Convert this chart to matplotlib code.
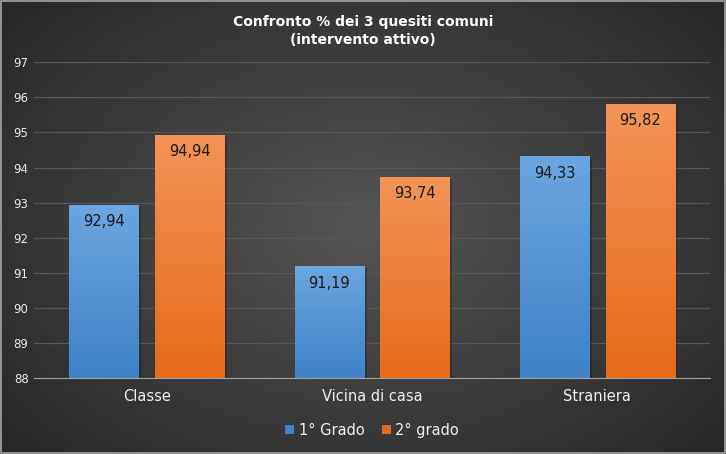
import numpy as np
import matplotlib
matplotlib.use("Agg")
import matplotlib.pyplot as plt
from matplotlib.patches import Rectangle

plt.rcParams['font.family'] = ['Liberation Sans Narrow', 'DejaVu Sans']

# dati
categorie = ["Classe", "Vicina di casa", "Straniera"]
primo_grado = [92.94, 91.19, 94.33]
secondo_grado = [94.94, 93.74, 95.82]
serie_nomi = ["1° Grado", "2° grado"]
y_ticks = list(range(88, 98))

fig = plt.figure(figsize=(7.26, 4.54), dpi=100)

# sfondo con gradiente radiale
bg = fig.add_axes([0, 0, 1, 1])
bg.set_axis_off()
yy, xx = np.mgrid[-1:1:300j, -1:1:480j]
r = np.sqrt(xx ** 2 + (yy * 0.9) ** 2)
r = np.clip(r / 1.3, 0, 1)
c_in = np.array([0x55, 0x55, 0x55]) / 255
c_out = np.array([0x28, 0x28, 0x28]) / 255
img = c_in[None, None, :] * (1 - r[..., None]) + c_out[None, None, :] * r[..., None]
bg.imshow(img, extent=[0, 1, 0, 1], aspect="auto", zorder=0)
bg.add_patch(Rectangle((0.001, 0.002), 0.997, 0.995, fill=False,
                       edgecolor="#a6a6a6", lw=1.2, transform=bg.transAxes))
bg.set_xlim(0, 1)
bg.set_ylim(0, 1)

ax = fig.add_axes([0.047, 0.167, 0.931, 0.696])
ax.patch.set_alpha(0)
x = np.arange(len(categorie))
w = 0.307
off = 0.19

def barre_gradiente(xs, vals, c_top, c_bot, label):
    bars = ax.bar(xs, [v - 88 for v in vals], w, bottom=88, color=c_bot,
                  label=label, zorder=3)
    grad = np.linspace(0, 1, 256)[:, None]
    cmap = matplotlib.colors.LinearSegmentedColormap.from_list("g", [c_top, c_bot])
    for b in bars:
        x0, y0 = b.get_x(), b.get_y()
        im = ax.imshow(grad, cmap=cmap, aspect="auto", zorder=3,
                       extent=[x0, x0 + b.get_width(), y0, y0 + b.get_height()])
        im.set_clip_path(b)
        # ombra
        ax.add_patch(Rectangle((x0 + 0.012, y0), b.get_width(), b.get_height() - 0.06,
                               color="black", alpha=0.22, zorder=2, lw=0))
    for xi, v in zip(xs, vals):
        ax.annotate(f"{v:.2f}".replace(".", ","), (xi, v), xytext=(0, -7),
                    textcoords="offset points", ha="center", va="top",
                    fontsize=10.5, color="#1a1a1a", zorder=5)
    return bars

barre_gradiente(x - off, primo_grado, "#6aa6e0", "#3f82c8", serie_nomi[0])
barre_gradiente(x + off, secondo_grado, "#f49458", "#e56a1a", serie_nomi[1])

ax.set_xlim(-0.5, 2.5)
ax.set_ylim(88, 97)
ax.set_yticks(y_ticks)
ax.set_yticklabels([str(t) for t in y_ticks], fontsize=8.5, color="#e8e8e8")
ax.set_xticks(x)
ax.set_xticklabels(categorie, fontsize=10.5, color="#f0f0f0")
ax.tick_params(axis="both", length=0, pad=8)
ax.tick_params(axis="y", pad=4)
ax.grid(axis="y", color="#585858", lw=0.9, zorder=0)
for s in ["top", "right", "left"]:
    ax.spines[s].set_visible(False)
ax.spines["bottom"].set_color("#a0a0a0")
ax.spines["bottom"].set_zorder(4)

fig.text(0.5, 0.967, "Confronto % dei 3 quesiti comuni\n(intervento attivo)",
         ha="center", va="top", fontsize=10, fontweight="bold", color="white",
         linespacing=1.4)

leg = ax.legend(loc="upper center", bbox_to_anchor=(0.5, -0.1), ncol=2,
                frameon=False, fontsize=10.5, handlelength=0.6, handleheight=0.6,
                handletextpad=0.3, columnspacing=1.2)
for t in leg.get_texts():
    t.set_color("#f0f0f0")

fig.savefig("out.png", dpi=100)
